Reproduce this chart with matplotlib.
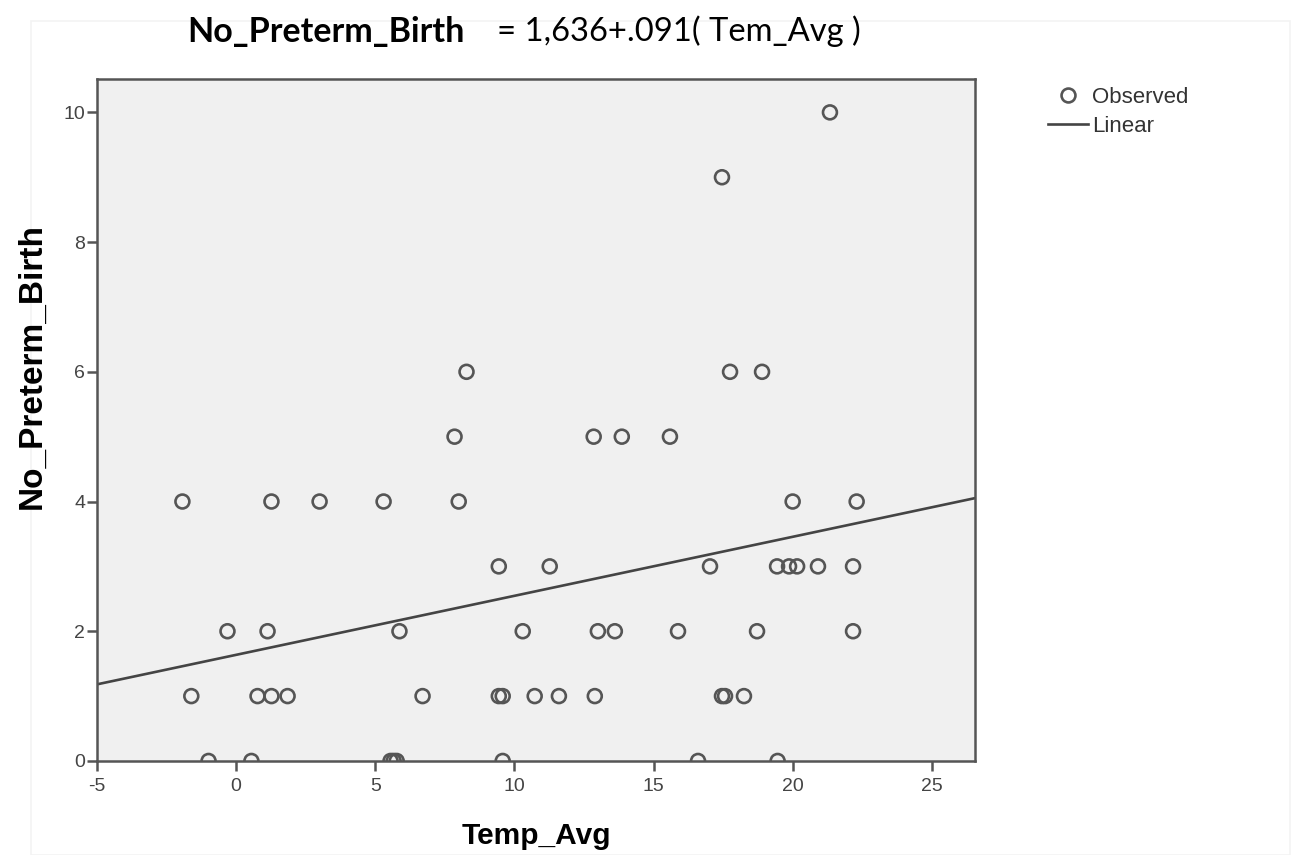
import matplotlib
matplotlib.use("Agg")
import matplotlib.pyplot as plt
from matplotlib.lines import Line2D
from matplotlib.patches import Rectangle

plt.rcParams['axes.unicode_minus'] = False

# observed points (grouped by y value)
temp_avg = [-0.99, 0.55, 5.55, 5.66, 5.77, 9.58, 16.6, 19.46,
            -1.61, 0.77, 1.27, 1.85, 6.7, 9.44, 9.58, 10.73, 11.6, 12.89, 17.46, 17.57, 18.25,
            -0.31, 1.13, 5.87, 10.3, 13.0, 13.61, 15.88, 18.72, 22.17,
            9.44, 11.27, 17.03, 19.44, 19.87, 20.16, 20.91, 22.17,
            -1.93, 1.27, 3.0, 5.3, 8.0, 20.0, 22.3,
            7.85, 12.85, 13.86, 15.59,
            8.28, 17.75, 18.9,
            17.46,
            21.34]
no_preterm = [0] * 8 + [1] * 13 + [2] * 9 + [3] * 8 + [4] * 7 + [5] * 4 + [6] * 3 + [9] + [10]

intercept = 1.636
slope = 0.091
x_ticks = [-5, 0, 5, 10, 15, 20, 25]
y_ticks = [0, 2, 4, 6, 8, 10]
x_range = [-5, 26.55]
y_range = [0, 10.52]

fig = plt.figure(figsize=(12.93, 8.55), dpi=100)
fig.patches.append(Rectangle((0.024, 0.0), 0.974, 0.976, transform=fig.transFigure,
                             fill=False, edgecolor='#f3f3f3', lw=1.2))
ax = fig.add_axes([0.075, 0.110, 0.679, 0.798])
ax.set_facecolor('#f0f0f0')

ax.scatter(temp_avg, no_preterm, s=100, facecolors='none', edgecolors='#555555',
           linewidths=1.9, zorder=3)
ax.plot(x_range, [intercept + slope * x for x in x_range], color='#444444', lw=1.9, zorder=2)

ax.set_xlim(x_range)
ax.set_ylim(y_range)
ax.set_xticks(x_ticks)
ax.set_yticks(y_ticks)
for s in ax.spines.values():
    s.set_color('#555555')
    s.set_linewidth(1.8)
ax.tick_params(axis='both', direction='out', length=7.5, width=1.8, color='#555555',
               labelsize=14, labelcolor='#444444')
ax.tick_params(axis='y', pad=1)
ax.tick_params(axis='x', pad=5)
for lab in ax.get_xticklabels() + ax.get_yticklabels():
    lab.set_family('Liberation Sans')

ax.set_xlabel('Temp_Avg', fontsize=21.5, fontweight='bold', family='Liberation Sans', labelpad=19)
fig.text(0.025, 0.572, 'No_Preterm_Birth', fontsize=24, fontweight='bold', family='Liberation Sans',
         rotation=90, ha='center', va='center')

fig.text(0.145, 0.962, 'No_Preterm_Birth', fontsize=24.5, fontweight='bold', family='Lato',
         va='center', ha='left')
fig.text(0.384, 0.964, '= 1,636+.091( Tem_Avg )', fontsize=23.6, family='Lato',
         va='center', ha='left')

handles = [Line2D([], [], ls='none', marker='o', markersize=10, markerfacecolor='none',
                  markeredgecolor='#555555', markeredgewidth=1.9),
           Line2D([], [], color='#444444', lw=1.9)]
fig.legend(handles, ['Observed', 'Linear'], loc='upper left', bbox_to_anchor=(0.8105, 0.898),
           frameon=False, labelcolor='#333333', handlelength=1.8,
           handletextpad=0.2, labelspacing=0.33, borderpad=0, borderaxespad=0,
           prop={'family': 'Liberation Sans', 'size': 16})

fig.savefig('out.png', dpi=100)
